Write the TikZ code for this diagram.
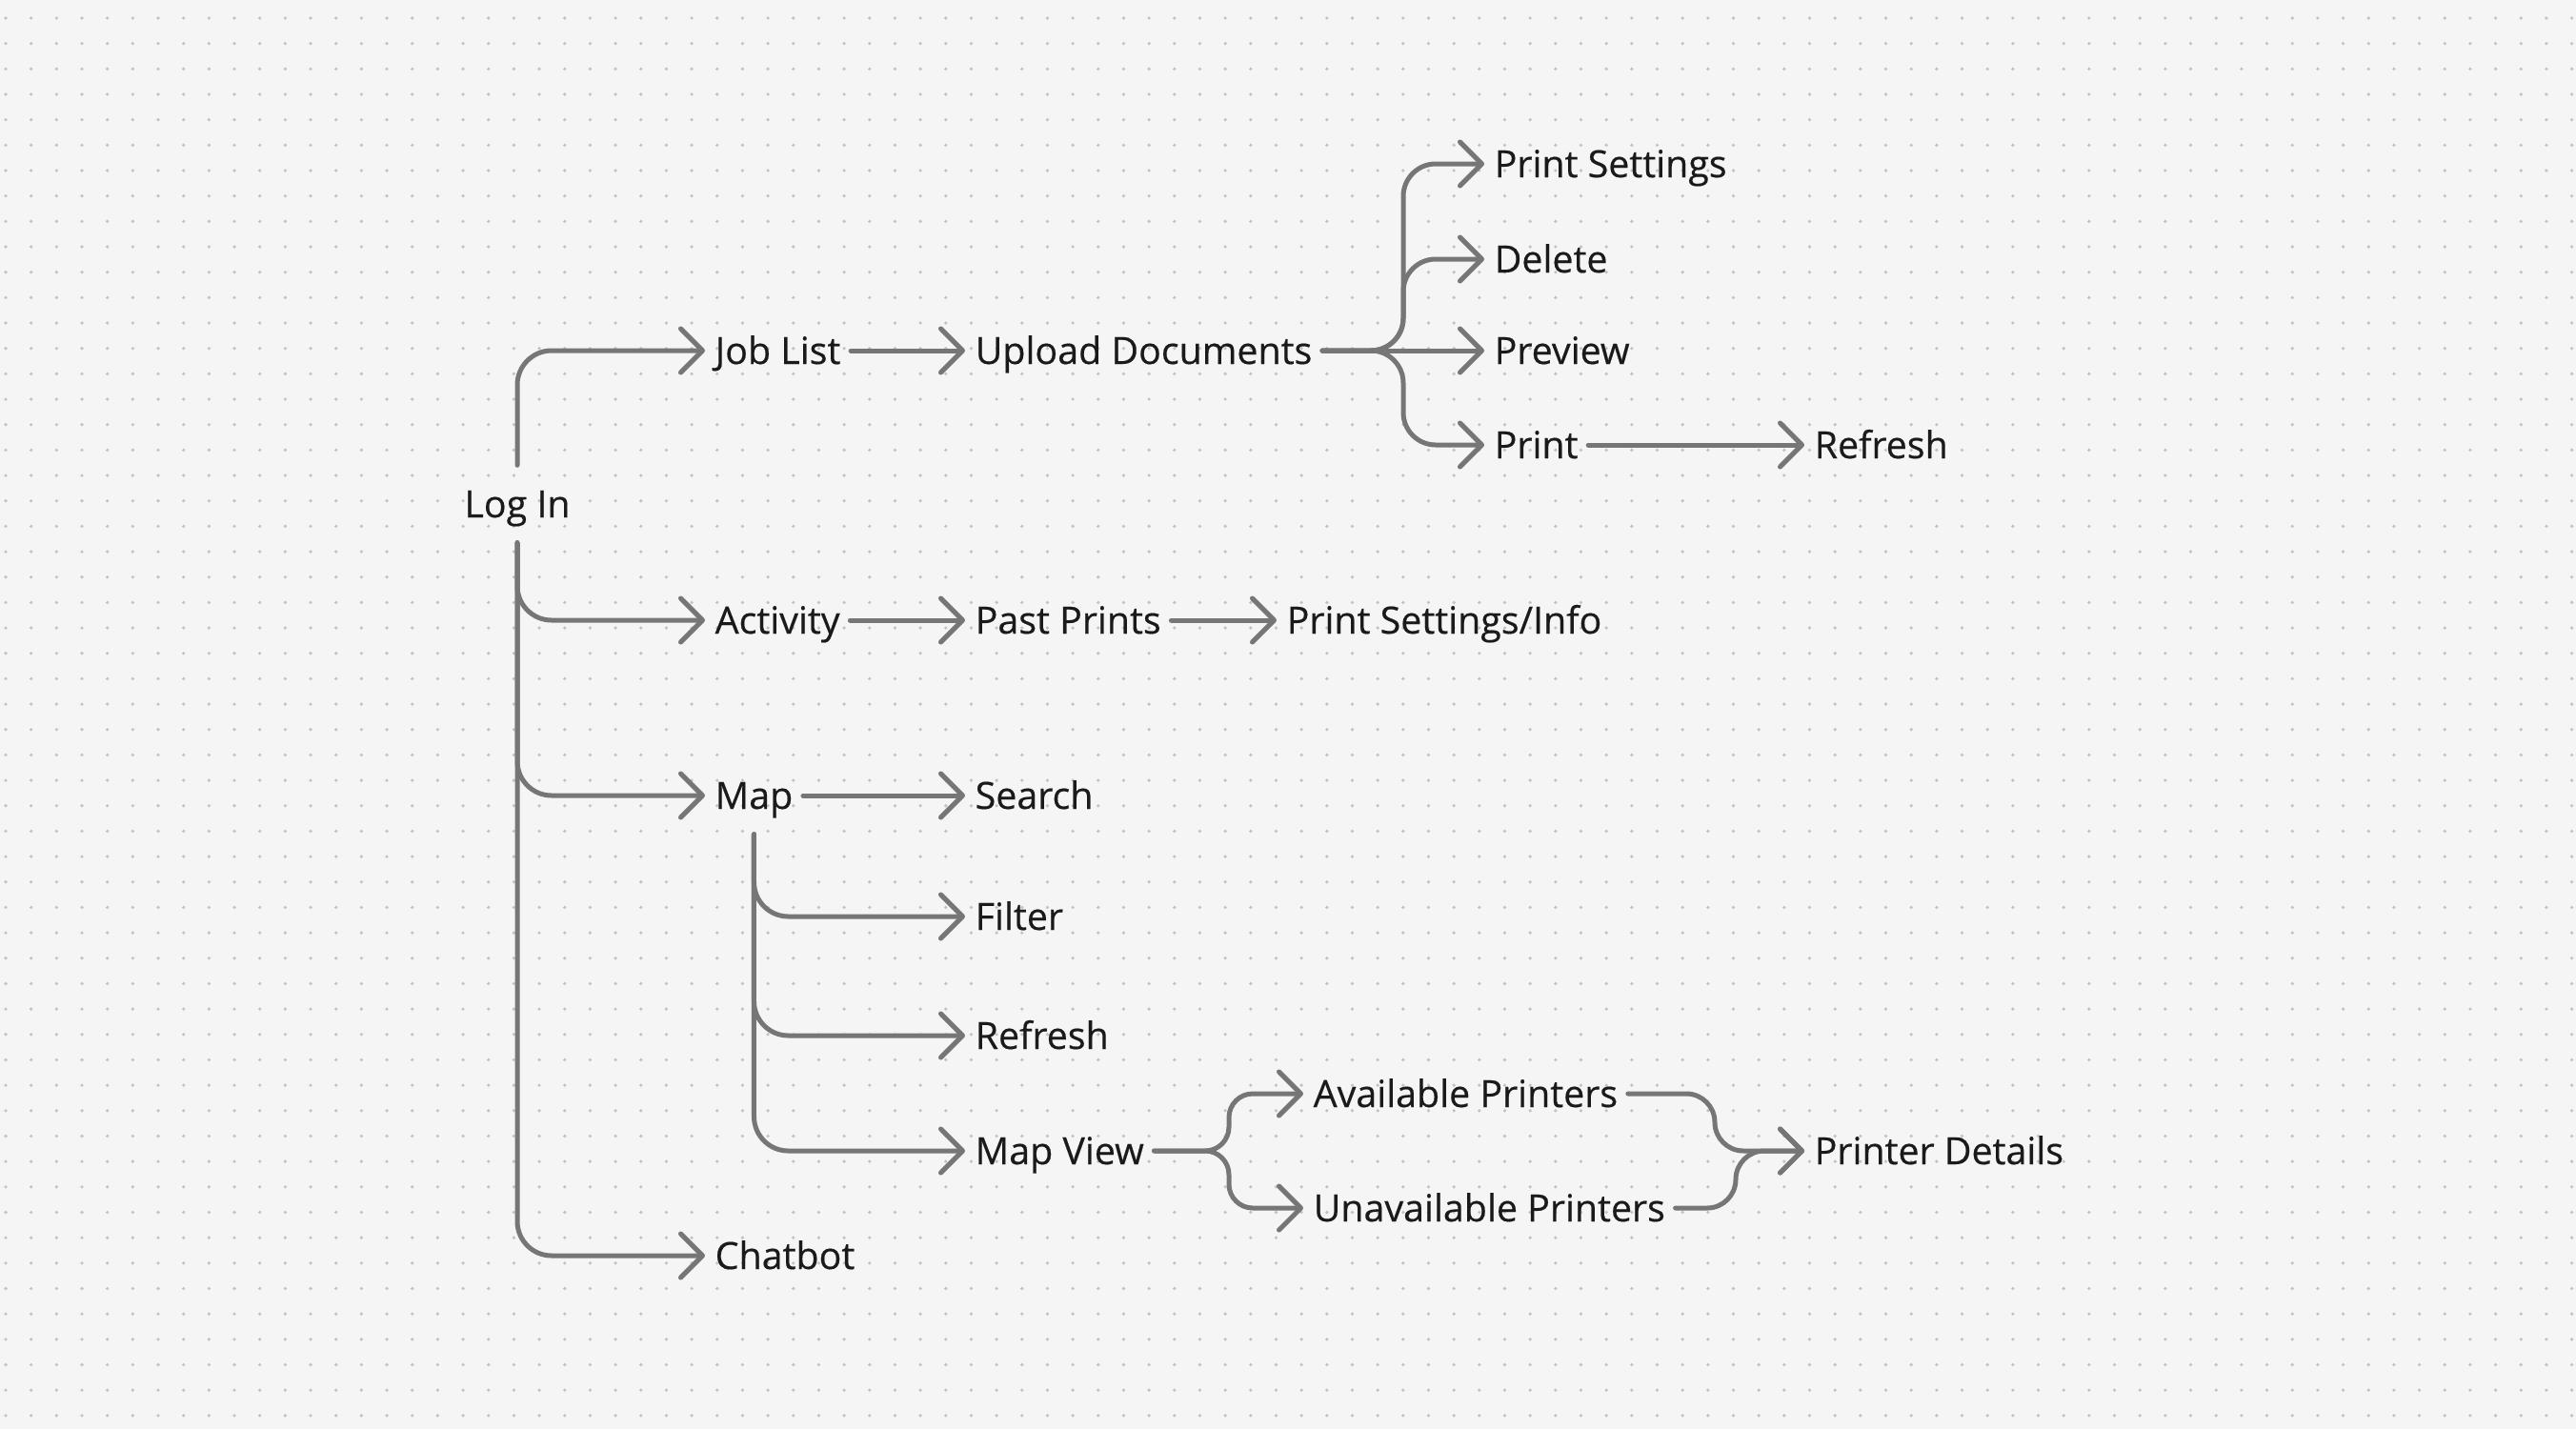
\documentclass[tikz,border=0pt]{standalone}
\usepackage{fontspec}
\setmainfont{Open Sans}
\newfontfamily\itemfont{Open Sans}[FakeBold=0.4]
\usetikzlibrary{arrows.meta}

\definecolor{canvas}{HTML}{F5F5F5}
\definecolor{griddot}{HTML}{C2C2C2}
\definecolor{linkgray}{HTML}{767676}
\definecolor{ink}{HTML}{1A1A1A}

\begin{document}
\begin{tikzpicture}[
    item/.style={anchor=west, font=\itemfont\fontsize{11.2pt}{13pt}\selectfont, text=ink, text height=2.8mm, text depth=0pt, inner xsep=1mm, inner ysep=2.6mm},
    link/.style={draw=linkgray, line width=0.5mm, line cap=round, line join=round, rounded corners=3.6mm, -{Straight Barb[length=2.3mm, width=4.6mm, round]}}
]

% Canvas
\fill[canvas] (0,0) rectangle (27.04,-15);
\useasboundingbox (0,0) rectangle (27.04,-15);
\foreach \i in {0,...,101}
  \foreach \j in {0,...,55}
    \fill[griddot] (0.06+0.2667*\i, -0.19-0.2667*\j) circle (0.018);

% Root
\node[item, anchor=center] (login) at (5.43,-5.29) {Log In};

% First level
\node[item] (joblist) at (7.40,-3.68) {Job List};
\node[item] (activity) at (7.40,-6.51) {Activity};
\node[item] (map) at (7.40,-8.35) {Map};
\node[item] (chatbot) at (7.40,-13.18) {Chatbot};

% Second level
\node[item] (upload) at (10.13,-3.68) {Upload Documents};
\node[item] (pastprints) at (10.13,-6.51) {Past Prints};
\node[item] (search) at (10.13,-8.35) {Search};
\node[item] (filter) at (10.13,-9.62) {Filter};
\node[item] (maprefresh) at (10.13,-10.87) {Refresh};
\node[item] (mapview) at (10.13,-12.08) {Map View};

% Job options
\node[item] (printsettings) at (15.58,-1.72) {Print Settings};
\node[item] (delete) at (15.58,-2.72) {Delete};
\node[item] (preview) at (15.58,-3.68) {Preview};
\node[item] (print) at (15.58,-4.67) {Print};
\node[item] (printrefresh) at (18.94,-4.67) {Refresh};

% Activity detail
\node[item] (printinfo) at (13.40,-6.51) {Print Settings/Info};

% Printers
\node[item] (available) at (13.68,-11.48) {Available Printers};
\node[item] (unavailable) at (13.68,-12.68) {Unavailable Printers};
\node[item] (details) at (18.94,-12.08) {Printer Details};

% Branch points
\coordinate (ufork) at (14.73,-3.68);
\coordinate (mvfork) at (12.90,-12.08);
\coordinate (ajoin) at (18.00,-12.08);
\coordinate (ujoin) at (18.22,-12.08);

% Connections: Log In
\draw[link] (login.north) |- (joblist.west);
\draw[link] (login.south) |- (activity.west);
\draw[link] (login.south) |- (map.west);
\draw[link] (login.south) |- (chatbot.west);

% Connections: straight
\draw[link] (joblist.east) -- (upload.west);
\draw[link] (activity.east) -- (pastprints.west);
\draw[link] (pastprints.east) -- (printinfo.west);
\draw[link] (map.east) -- (search.west);
\draw[link] (print.east) -- (printrefresh.west);

% Connections: Upload Documents
\draw[link, rounded corners=3.4mm] (upload.east) -- (ufork) |- (printsettings.west);
\draw[link, rounded corners=3.4mm] (upload.east) -- (ufork) |- (delete.west);
\draw[link] (upload.east) -- (preview.west);
\draw[link, rounded corners=3.4mm] (upload.east) -- (ufork) |- (print.west);

% Connections: Map
\draw[link] (map.south) |- (filter.west);
\draw[link] (map.south) |- (maprefresh.west);
\draw[link] (map.south) |- (mapview.west);

% Connections: Map View
\draw[link, rounded corners=2.5mm] (mapview.east) -- (mvfork) |- (available.west);
\draw[link, rounded corners=2.5mm] (mapview.east) -- (mvfork) |- (unavailable.west);
\draw[link, rounded corners=3mm] (available.east) -| (ajoin) -- (details.west);
\draw[link, rounded corners=3mm] (unavailable.east) -| (ujoin) -- (details.west);

\end{tikzpicture}
\end{document}
